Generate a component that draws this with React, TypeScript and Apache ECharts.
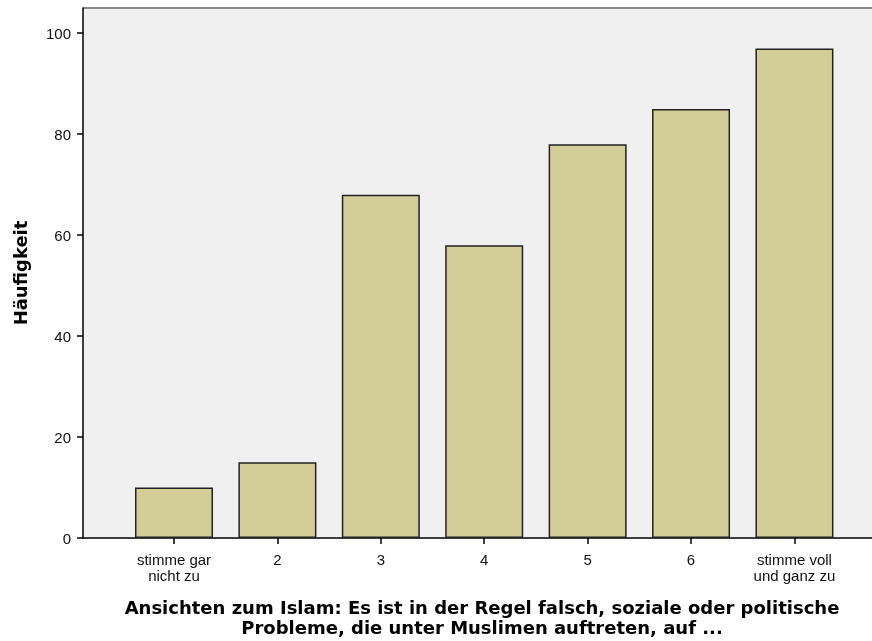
import React, { useEffect, useRef } from "react";
import * as echarts from "echarts";

const categories = ["stimme gar\nnicht zu", "2", "3", "4", "5", "6", "stimme voll\nund ganz zu"];
const counts = [10, 15, 68, 58, 78, 85, 97];
const yTicks = [0, 20, 40, 60, 80, 100];
const xTitle = "Ansichten zum Islam: Es ist in der Regel falsch, soziale oder politische\nProbleme, die unter Muslimen auftreten, auf ...";
const yTitle = "Häufigkeit";

export default function App() {
  const ref = useRef<HTMLDivElement>(null);
  useEffect(() => {
    if (!ref.current) return;
    const chart = echarts.init(ref.current, null, { renderer: "svg" });
    const idx = categories.map((_, i) => i);
    chart.setOption({
      animation: false,
      textStyle: { fontFamily: "Liberation Sans, Arial, sans-serif" },
      grid: {
        left: 83, top: 8, right: 0, bottom: 103,
        show: true, backgroundColor: "#f0f0f0", borderWidth: 0,
      },
      graphic: [
        { type: "line", shape: { x1: 83, y1: 8, x2: 872, y2: 8 }, style: { stroke: "#8a8a8a", lineWidth: 2 } },
        {
          type: "text", x: 482, y: 597,
          style: {
            text: xTitle, textAlign: "center", font: "bold 18px 'DejaVu Sans', Verdana, sans-serif",
            fill: "#000", lineHeight: 20,
          },
        },
      ],
      xAxis: {
        type: "value",
        min: -0.88,
        max: 6.75,
        splitLine: { show: false },
        axisLine: { show: true, onZero: false, lineStyle: { color: "#000", width: 1.5 } },
        axisTick: { show: true, customValues: idx, length: 6, lineStyle: { color: "#000", width: 1.5 } },
        axisLabel: {
          customValues: idx,
          formatter: (v: number) => categories[Math.round(v)] ?? "",
          color: "#111", fontSize: 15, lineHeight: 16, margin: 13,
        },
      },
      yAxis: {
        type: "value",
        min: 0,
        max: 105,
        interval: 20,
        name: yTitle,
        nameLocation: "middle",
        nameGap: 54,
        nameRotate: 90,
        nameTextStyle: { fontWeight: "bold", fontSize: 18, color: "#000", fontFamily: "DejaVu Sans, Verdana, sans-serif" },
        splitLine: { show: false },
        axisLine: { show: true, onZero: false, lineStyle: { color: "#000", width: 1.5 } },
        axisTick: { show: true, customValues: yTicks, length: 6, lineStyle: { color: "#000", width: 1.5 } },
        axisLabel: {
          customValues: yTicks,
          color: "#111", fontSize: 15, margin: 12,
        },
      },
      series: [
        {
          type: "bar",
          data: counts.map((c, i) => [i, c]),
          barWidth: 78,
          itemStyle: { color: "#d3ce97", borderColor: "#222", borderWidth: 1.5 },
        },
      ],
    });
    return () => chart.dispose();
  }, []);
  return <div ref={ref} style={{ position: "fixed", left: 0, top: 0, width: 872, height: 641 }} />;
}
